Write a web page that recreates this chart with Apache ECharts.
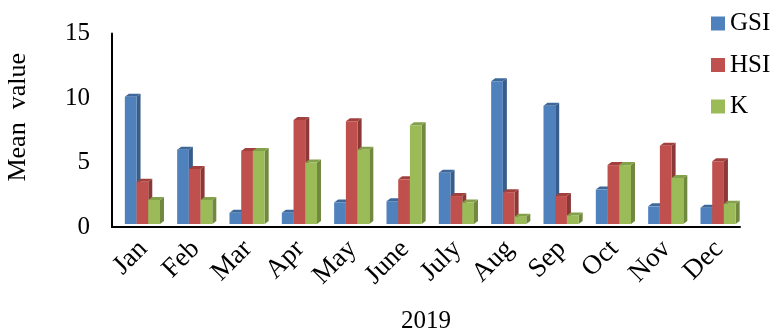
<!DOCTYPE html>
<html>
<head>
<meta charset="utf-8">
<script src="https://cdn.jsdelivr.net/npm/echarts@6/dist/echarts.min.js"></script>
<style>
  html, body { margin: 0; padding: 0; background: #fff; }
  #chart { width: 774px; height: 335px; }
</style>
</head>
<body>
<div id="chart"></div>
<script>
// Monthly mean values, 2019
const months = ['Jan', 'Feb', 'Mar', 'Apr', 'May', 'June', 'July', 'Aug', 'Sep', 'Oct', 'Nov', 'Dec'];
const gsi = [10.1, 6.0, 1.1, 1.1, 1.9, 2.0, 4.2, 11.3, 9.4, 2.9, 1.6, 1.5];
const hsi = [3.5, 4.5, 5.9, 8.3, 8.2, 3.7, 2.4, 2.7, 2.4, 4.8, 6.3, 5.1];
const kVal = [2.1, 2.1, 5.9, 5.0, 6.0, 7.9, 1.9, 0.8, 0.9, 4.8, 3.8, 1.8];
const yTicks = [0, 5, 10, 15];

const FONT = '"Liberation Serif", "Times New Roman", serif';

// Face colours for the extruded columns: front, side, top
const palette = [
  { front: '#4F81BD', side: '#385D8A', top: '#3F689A' },
  { front: '#C0504D', side: '#8C3836', top: '#A2403E' },
  { front: '#9BBB59', side: '#71893F', top: '#83A04A' }
];

// Column drawn as a front rectangle with a right side and a top face for depth
function columnRenderer(slot, colors) {
  return function (params, api) {
    const idx = api.value(0);
    const v = api.value(1);
    const band = api.size([1, 0])[0];
    const base = api.coord([idx, 0]);
    const bandStart = base[0] - band / 2;
    const w = band * 0.224;
    const x = bandStart + band * 0.245 + slot * w;
    const yb = base[1] - 3;
    const yt = api.coord([idx, v])[1];
    const dx = 4, dy = 3;
    return {
      type: 'group',
      children: [
        { type: 'polygon', shape: { points: [[x + w, yb], [x + w + dx, yb - dy], [x + w + dx, yt - dy], [x + w, yt]] }, style: { fill: colors.side } },
        { type: 'polygon', shape: { points: [[x, yt], [x + dx, yt - dy], [x + w + dx, yt - dy], [x + w, yt]] }, style: { fill: colors.top } },
        { type: 'rect', shape: { x: x, y: yt, width: w, height: yb - yt }, style: { fill: colors.front } }
      ]
    };
  };
}

function makeSeries(name, values, slot) {
  return {
    name: name,
    type: 'custom',
    renderItem: columnRenderer(slot, palette[slot]),
    itemStyle: { color: palette[slot].front },
    encode: { x: 0, y: 1 },
    data: values.map((v, i) => [i, v])
  };
}

const chart = echarts.init(document.getElementById('chart'));
chart.setOption({
  animation: false,
  backgroundColor: '#fff',
  grid: [
    { left: 112, right: 34, top: 33.6, bottom: 108, containLabel: false, outerBoundsMode: 'none' },
    // companion grid carrying the slanted month labels, nudged right
    { left: 117, right: 29, top: 33.6, bottom: 108, containLabel: false, outerBoundsMode: 'none' }
  ],
  legend: {
    orient: 'vertical',
    left: 706,
    top: 6,
    itemWidth: 14,
    itemHeight: 14,
    itemGap: 16.5,
    icon: 'rect',
    textStyle: { fontFamily: FONT, fontSize: 25, color: '#000' },
    data: ['GSI', 'HSI', 'K']
  },
  xAxis: [
    {
      type: 'category',
      gridIndex: 0,
      data: months,
      axisLine: { lineStyle: { color: '#000', width: 2 } },
      axisTick: { show: false },
      axisLabel: { show: false },
      name: '2019',
      nameLocation: 'middle',
      nameGap: 82,
      nameTextStyle: { fontFamily: FONT, fontSize: 25, color: '#000' }
    },
    {
      type: 'category',
      gridIndex: 1,
      data: months,
      axisLine: { show: false },
      axisTick: { show: false },
      axisLabel: { rotate: 45, fontFamily: FONT, fontSize: 27, color: '#000', margin: 18, interval: 0 }
    }
  ],
  yAxis: [
    {
      type: 'value',
      gridIndex: 0,
      min: yTicks[0],
      max: yTicks[yTicks.length - 1],
      interval: 5,
      axisLine: { show: true, lineStyle: { color: '#000', width: 2 } },
      axisTick: { show: false },
      splitLine: { show: false },
      axisLabel: { fontFamily: FONT, fontSize: 25, color: '#000', margin: 22 },
      name: 'Mean  value',
      nameLocation: 'middle',
      nameRotate: 90,
      nameGap: 81,
      nameTextStyle: { fontFamily: FONT, fontSize: 26, color: '#000', padding: [0, 0, 0, 26] }
    },
    {
      type: 'value',
      gridIndex: 1,
      min: yTicks[0],
      max: yTicks[yTicks.length - 1],
      show: false
    }
  ],
  series: [
    makeSeries('GSI', gsi, 0),
    makeSeries('HSI', hsi, 1),
    makeSeries('K', kVal, 2)
  ]
});
</script>
</body>
</html>
